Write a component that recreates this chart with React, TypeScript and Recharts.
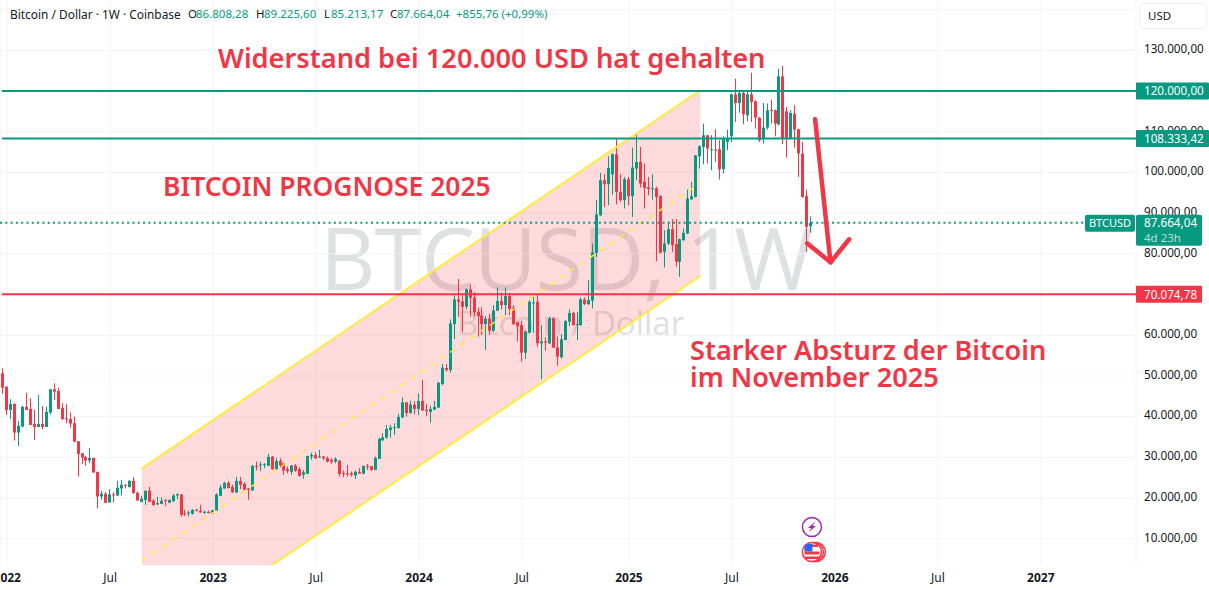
import React from "react";
import {
  ComposedChart,
  Bar,
  Line,
  Area,
  XAxis,
  YAxis,
  CartesianGrid,
  ReferenceLine,
  ReferenceDot,
} from "recharts";

const UP = "#089981";
const DOWN = "#f23645";
const YELLOW = "#ffeb3b";
const TEXT = "#131722";
const FONT = "'Noto Sans', sans-serif";

// weekly candles, first one is the week of 27 Dec 2021
const opens = [
  50660, 47390, 41660, 43130, 36100, 37570, 42400, 41910, 38230, 37490, 38230, 37490, 41010, 46730, 46330, 42150, 39620, 39450, 38390, 33970,
  31030, 30050, 29230, 29880, 26370, 20400, 21050, 18920, 20890, 20640, 22360, 23260, 22680, 24240, 21290, 19080, 19580, 21790, 19410, 18430,
  18590, 19500, 18840, 19250, 20640, 20890, 16220, 16300, 16140, 17120, 16880, 16470, 16630, 16220, 16880, 20560, 22360, 23750, 22770, 21380,
  24240, 23500, 22360, 21870, 27920, 28080, 28160, 27920, 30210, 27100, 29150, 28490, 27100, 26450, 28000, 27100, 25710, 25960, 30210, 30620,
  29960, 30210, 29800, 29390, 28980, 29230, 26120, 26040, 26120, 25550, 26450, 25960, 27840, 27840, 26940, 29640, 34220, 34870, 36750, 37240,
  37240, 39860, 43540, 40920, 42970, 41910, 43870, 41660, 41170, 41740, 42230, 48040, 51970, 51480, 62770, 68820, 68330, 67020, 71270, 69310,
  65790, 64890, 62770, 64070, 61130, 66040, 68410, 67430, 69640, 66770, 63170, 62520, 55730, 60640, 67840, 68250, 58020, 58510, 58020, 64160,
  57040, 54590, 58840, 63340, 65470, 62600, 62520, 68820, 67670, 68490, 80270, 89510, 98100, 97120, 99580, 104480, 95240, 93200, 98350, 94180,
  100970, 102600, 97700, 96390, 95980, 96140, 94180, 80520, 82560, 86080, 82400, 78060, 83380, 85020, 93440, 94010, 103990, 106280, 109150, 105470,
  105630, 105710, 100800, 107510, 108900, 119210, 117080, 119540, 114050, 119210, 117490, 113480, 108160, 111030, 115360, 115280, 111850, 123620, 115040, 108330,
  114460, 110620, 104650, 94180, 86808.28,
];
const closes = [
  47140, 41660, 43130, 36100, 37740, 42400, 41660, 37980, 37490, 38230, 37490, 41170, 46730, 46160, 41910, 39450, 39450, 38310, 33890, 30860,
  29960, 29230, 29880, 26280, 20400, 21050, 18840, 20890, 20640, 22520, 23260, 23010, 24240, 21290, 19410, 19820, 21790, 19080, 18270, 18760,
  19330, 19250, 19580, 20640, 20970, 15900, 15980, 16470, 17120, 16880, 16470, 16630, 16300, 17040, 20890, 22600, 23750, 22520, 21460, 24240,
  23260, 22030, 22030, 27920, 27760, 28250, 28330, 30130, 27100, 29150, 28080, 26780, 26610, 28000, 26690, 25470, 26360, 30370, 30620, 29800,
  30210, 29800, 28980, 28980, 29640, 25960, 25870, 25790, 25790, 26450, 26040, 27920, 27590, 26940, 29880, 34540, 34950, 37000, 37330, 37410,
  39940, 43540, 40920, 42970, 41910, 43870, 41500, 41420, 41910, 42400, 48370, 52050, 51480, 62930, 68820, 68250, 67020, 71270, 69230, 65630,
  64730, 62770, 64070, 61130, 66120, 68410, 67430, 69640, 66450, 62770, 62270, 55730, 60880, 68250, 68080, 58020, 58510, 58190, 64160, 56960,
  54750, 59000, 63500, 65470, 62520, 62770, 68820, 67670, 68660, 80350, 89680, 98100, 97120, 101130, 104480, 95240, 93200, 98350, 94180, 101210,
  102600, 97290, 96220, 95980, 96140, 94010, 80270, 82560, 86080, 82150, 78060, 83630, 85180, 93600, 94180, 104240, 106450, 109150, 105870, 105710,
  105470, 100800, 108330, 108330, 119210, 117080, 119540, 114300, 119210, 117330, 113480, 107920, 111030, 115280, 115120, 112010, 123620, 108330, 108330, 114630,
  110540, 104650, 94010, 86650, 87664.04,
];
const highs = [
  51890, 47390, 44280, 43300, 38960, 42640, 45920, 44530, 41660, 45340, 42640, 42480, 46820, 48210, 47140, 43300, 43050, 41010, 40030, 33970,
  31030, 30370, 32260, 29880, 26530, 21790, 21460, 22190, 21460, 24240, 24480, 23420, 24480, 25140, 21620, 20560, 21870, 22770, 19660, 20310,
  20150, 19740, 19580, 20970, 21210, 20970, 17120, 16880, 17290, 17370, 18350, 16960, 16960, 17120, 21210, 23260, 23990, 24160, 23340, 25220,
  25220, 23990, 22520, 28160, 28980, 28980, 28570, 30860, 30370, 29800, 29800, 28570, 27760, 28160, 28410, 27590, 26940, 30370, 31190, 31190,
  31850, 30370, 30210, 29800, 30050, 29390, 26770, 28160, 26530, 26770, 27350, 27920, 28410, 27920, 30210, 34870, 35940, 37980, 37980, 38390,
  40680, 44770, 43540, 43950, 43870, 45750, 49020, 43130, 42640, 43870, 48450, 52950, 52950, 63910, 69880, 73810, 69880, 71520, 72500, 70540,
  66770, 66860, 64730, 65220, 67430, 71760, 70540, 71760, 70290, 67430, 63340, 63580, 61290, 68660, 69470, 70050, 62520, 59490, 64570, 64400,
  59660, 60310, 63750, 66360, 65790, 65790, 69310, 69310, 73560, 82560, 93200, 99900, 99580, 103990, 104650, 108330, 99580, 98920, 98920, 106120,
  109390, 106280, 102190, 98920, 99580, 96470, 94420, 85830, 87630, 88530, 88530, 83790, 86250, 95810, 97690, 104240, 106690, 112010, 109150, 109150,
  110620, 107920, 108900, 110540, 119370, 123050, 120350, 119780, 119780, 124520, 117740, 113650, 117080, 116920, 117900, 115450, 125510, 126160, 116100, 115280,
  116510, 110780, 107510, 95810, 89225.6,
];
const lows = [
  45590, 40440, 39450, 34140, 32830, 37410, 41660, 37980, 34300, 37490, 36920, 37490, 40600, 44120, 41910, 39210, 38390, 37330, 33650, 25300,
  28410, 27920, 28570, 26280, 17450, 19580, 18760, 18840, 18920, 20560, 20640, 22360, 22680, 21050, 19410, 19080, 18350, 19080, 18100, 18350,
  18510, 18100, 18760, 19080, 19740, 15400, 15650, 15490, 15980, 16710, 16470, 16140, 16300, 16220, 16880, 20560, 22360, 22360, 21290, 21290,
  22190, 21870, 19580, 21870, 26780, 26610, 27350, 27920, 26940, 26940, 27590, 25710, 26120, 25710, 26450, 25300, 24730, 25960, 29390, 29640,
  29960, 29390, 28740, 28410, 28570, 25300, 25140, 25300, 25300, 24730, 26040, 25960, 26940, 26690, 26940, 29640, 34050, 34540, 34870, 35530,
  37080, 39620, 40030, 40760, 40600, 40430, 41500, 40190, 38550, 41660, 42230, 47710, 51070, 50820, 59080, 64570, 60880, 66360, 64570, 64570,
  59660, 60070, 56390, 60070, 60880, 66040, 66360, 64970, 64970, 62520, 58430, 53520, 54180, 60480, 60640, 57200, 49190, 56220, 57860, 56960,
  52540, 54340, 58840, 62270, 62360, 58840, 62360, 67430, 67430, 66610, 79290, 89270, 91560, 91970, 94590, 92210, 92790, 91150, 91970, 89110,
  98100, 96300, 91150, 94420, 93360, 78230, 80110, 76670, 82150, 80520, 76830, 74380, 83210, 84850, 93190, 93850, 100970, 102030, 102190, 100560,
  102600, 98270, 99740, 105470, 107510, 112420, 114710, 111850, 112580, 112420, 110780, 107510, 107100, 110540, 112010, 108900, 111600, 106940, 103670, 108160,
  106120, 98920, 93850, 80520, 85213.17,
];

// 120.000 and 70.000 are hidden behind the price tags in the original
const priceTicks = [130000, 110000, 100000, 90000, 80000, 60000, 50000, 40000, 30000, 20000, 10000];
const gridPrices = [140000, 130000, 120000, 110000, 100000, 90000, 80000, 70000, 60000, 50000, 40000, 30000, 20000, 10000];
const timeTicks = [1, 27, 53, 79, 105, 131, 158, 184, 210, 236, 262];
const timeLabels = ["2022", "Jul", "2023", "Jul", "2024", "Jul", "2025", "Jul", "2026", "Jul", "2027"];

const RESISTANCE = 120000;
const SUPPORT_UP = 108333.42;
const SUPPORT_DOWN = 70074.78;
const LAST_PRICE = 87664.04;
const tagPrices = [RESISTANCE, SUPPORT_UP, LAST_PRICE, SUPPORT_DOWN];

const channelWeeks = [35, 176];
const channelTop = [27320, 120200];
const channelMid = [4620, 97420];
const channelBottom = [-18060, 74570];

const shaftWeeks = [205, 208.9];
const shaftPrices = [113070, 77930];
const headWeeks = [203, 208.9, 213.6];
const headPrices = [82600, 77930, 83590];

const rows = opens.map((open, week) => ({
  week,
  open,
  close: closes[week],
  range: [lows[week], highs[week]],
}));
const channelRows = channelWeeks.map((week, i) => ({
  week,
  band: [channelBottom[i], channelTop[i]],
  top: channelTop[i],
  mid: channelMid[i],
  bottom: channelBottom[i],
}));
const shaftRows = shaftWeeks.map((week, i) => ({ week, price: shaftPrices[i] }));
const headRows = headWeeks.map((week, i) => ({ week, price: headPrices[i] }));

const PLOT_W = 1136;
const Y_DOMAIN: [number, number] = [3563, 142383];

const fmt = (v: number) =>
  v.toLocaleString("de-DE", { minimumFractionDigits: 2, maximumFractionDigits: 2 });

function Candle(props: any) {
  const { x, y, width, height, payload } = props;
  const [low, high] = payload.range;
  const perUnit = height / (high - low);
  const color = payload.close >= payload.open ? UP : DOWN;
  const top = y + (high - Math.max(payload.open, payload.close)) * perUnit;
  const bodyH = Math.max(Math.abs(payload.close - payload.open) * perUnit, 1);
  const cx = Math.round(x + width / 2 - 0.5) + 0.5;
  return (
    <g>
      <rect x={cx - 0.5} y={y} width={1} height={height} fill={color} />
      <rect x={cx - 1.5} y={top} width={3} height={bodyH} fill={color} />
    </g>
  );
}

function PriceTick({ y, payload }: any) {
  return (
    <text x={PLOT_W + 8} y={y - 1.5} dy="0.36em" fontSize={11.7} fontFamily={FONT} fill={TEXT}>
      {fmt(payload.value)}
    </text>
  );
}

function TimeTick({ x, y, index }: any) {
  const label = timeLabels[index];
  return (
    <text
      x={x}
      y={y + 5}
      dy="0.36em"
      textAnchor="middle"
      fontSize={12}
      fontWeight={label === "Jul" ? 400 : 700}
      fontFamily={FONT}
      fill={TEXT}
    >
      {label}
    </text>
  );
}

// second axis on top of the first one, so the tags cover the tick labels
function TagTick({ y, payload }: any) {
  const v = payload.value;
  if (v === LAST_PRICE) {
    return (
      <g>
        <rect x={1085} y={y - 8} width={50} height={17} rx={2} fill={UP} />
        <text x={1110} y={y + 0.5} dy="0.36em" textAnchor="middle" fontSize={11} fontFamily={FONT} fill="#fff">
          BTCUSD
        </text>
        <rect x={PLOT_W} y={y - 8} width={66} height={31} rx={2} fill={UP} />
        <text x={PLOT_W + 8} y={y} dy="0.36em" fontSize={11.7} fontFamily={FONT} fill="#fff">
          {fmt(v)}
        </text>
        <text x={PLOT_W + 8} y={y + 15} dy="0.36em" fontSize={11.5} fontFamily={FONT} fill="#b5e0d7">
          4d 23h
        </text>
      </g>
    );
  }
  const color = v === SUPPORT_DOWN ? DOWN : UP;
  return (
    <g>
      <rect x={PLOT_W} y={y - 8.5} width={v === SUPPORT_DOWN ? 66 : 73} height={17} rx={1} fill={color} />
      <text x={PLOT_W + 8} y={y} dy="0.36em" fontSize={11.7} fontFamily={FONT} fill="#fff">
        {fmt(v)}
      </text>
    </g>
  );
}

function FlashIcon({ cx, cy }: any) {
  return (
    <g>
      <circle cx={cx} cy={cy} r={9.5} fill="#fff" stroke="#9c27b0" strokeWidth={1.5} />
      <path
        d={`M${cx + 3.5} ${cy - 5.5}L${cx - 4} ${cy + 1}H${cx - 0.5}L${cx - 3.5} ${cy + 5.5}L${cx + 4} ${cy - 1}H${cx + 0.5}Z`}
        fill="#9c27b0"
      />
    </g>
  );
}

function FlagIcon({ cx, cy }: any) {
  return (
    <g>
      <circle cx={cx + 4} cy={cy} r={9.5} fill="#fff" stroke={DOWN} strokeWidth={1.5} />
      <circle cx={cx + 2} cy={cy} r={9.5} fill="#fff" stroke={DOWN} strokeWidth={1.5} />
      <circle cx={cx} cy={cy} r={9.5} fill="#fff" stroke={DOWN} strokeWidth={1.5} />
      <path d={`M${cx - 7.5} ${cy - 0.5}h15v3h-15z`} fill={DOWN} />
      <path d={`M${cx - 7} ${cy + 4.5}h14v2.5h-14z`} fill={DOWN} />
      <path d={`M${cx - 4} ${cy - 7.5}h10v2.5h-10z`} fill={DOWN} />
      <path d={`M${cx - 7.5} ${cy - 6.5}l3.5 -1.5h4.5v7.5h-8z`} fill="#2962ff" />
    </g>
  );
}

const labelStyle: React.CSSProperties = {
  position: "absolute",
  whiteSpace: "nowrap",
  fontFamily: FONT,
  color: DOWN,
  fontWeight: 600,
};
const legend = (x: number, text: string, color: string, size = 11.5) => (
  <span style={{ position: "absolute", left: x, top: 6, fontSize: size, lineHeight: "16px", color, whiteSpace: "nowrap" }}>
    {text}
  </span>
);

export default function App() {
  return (
    <div style={{ position: "absolute", left: 0, top: 0, width: 1209, height: 590, overflow: "hidden", background: "#fff" }}>
      {/* watermark sits behind the chart */}
      <div style={{ position: "absolute", left: 320, top: 214, fontFamily: "'Open Sans', sans-serif", fontSize: 86, letterSpacing: -1, lineHeight: "86px", color: "#dfe0e2", whiteSpace: "nowrap" }}>
        BTCUSD, 1W
      </div>
      <div style={{ position: "absolute", left: 457, top: 300, fontFamily: "'Open Sans', sans-serif", fontSize: 33, lineHeight: "46px", color: "#dfe0e2", whiteSpace: "nowrap" }}>
        Bitcoin / Dollar
      </div>

      <div style={{ position: "absolute", left: 0, top: 0 }}>
        <ComposedChart width={1209} height={590} data={rows} margin={{ top: 0, right: 0, bottom: 0, left: 0 }}>
          <CartesianGrid stroke="#f2f3f4" horizontalValues={gridPrices} />
          <XAxis
            dataKey="week"
            type="number"
            domain={[-0.833, 286.04]}
            ticks={timeTicks}
            allowDataOverflow
            interval={0}
            height={25}
            axisLine={false}
            tickLine={false}
            tick={<TimeTick />}
          />
          <YAxis
            orientation="right"
            type="number"
            domain={Y_DOMAIN}
            ticks={priceTicks}
            allowDataOverflow
            interval={0}
            width={73}
            axisLine={false}
            tickLine={false}
            tick={<PriceTick />}
          />
          <YAxis
            yAxisId="tags"
            orientation="right"
            mirror
            type="number"
            domain={Y_DOMAIN}
            ticks={tagPrices}
            allowDataOverflow
            interval={0}
            width={73}
            axisLine={false}
            tickLine={false}
            tick={<TagTick />}
          />
          <Area
            data={channelRows}
            dataKey="band"
            stroke="none"
            fill={DOWN}
            fillOpacity={0.18}
            dot={false}
            activeDot={false}
            isAnimationActive={false}
          />
          <Line data={channelRows} dataKey="mid" stroke={YELLOW} strokeWidth={1.5} strokeDasharray="6 6" dot={false} activeDot={false} isAnimationActive={false} />
          <Line data={channelRows} dataKey="top" stroke={YELLOW} strokeWidth={2} dot={false} activeDot={false} isAnimationActive={false} />
          <Line data={channelRows} dataKey="bottom" stroke={YELLOW} strokeWidth={2} dot={false} activeDot={false} isAnimationActive={false} />
          <Bar dataKey="range" barSize={3} shape={<Candle />} isAnimationActive={false} />
          <ReferenceLine segment={[{ x: -0.33, y: RESISTANCE }, { x: 286.04, y: RESISTANCE }]} stroke={UP} strokeWidth={2} />
          <ReferenceLine segment={[{ x: -0.33, y: SUPPORT_UP }, { x: 286.04, y: SUPPORT_UP }]} stroke={UP} strokeWidth={2} />
          <ReferenceLine segment={[{ x: -0.33, y: SUPPORT_DOWN }, { x: 286.04, y: SUPPORT_DOWN }]} stroke={DOWN} strokeWidth={2} />
          <ReferenceLine
            segment={[{ x: -0.833, y: LAST_PRICE }, { x: 273, y: LAST_PRICE }]}
            stroke={UP}
            strokeWidth={2}
            strokeDasharray="2 3.3"
          />
          <Line data={shaftRows} dataKey="price" stroke={DOWN} strokeWidth={4.5} strokeLinecap="round" dot={false} activeDot={false} isAnimationActive={false} />
          <Line data={headRows} dataKey="price" stroke={DOWN} strokeWidth={4.5} strokeLinecap="round" strokeLinejoin="round" dot={false} activeDot={false} isAnimationActive={false} />
          <ReferenceDot x={204.2} y={12900} shape={<FlashIcon />} />
          <ReferenceDot x={204.2} y={6760} shape={<FlagIcon />} />
        </ComposedChart>
      </div>

      {/* header line */}
      <div style={{ fontFamily: FONT }}>
        {legend(10, "Bitcoin / Dollar · 1W · Coinbase", TEXT, 11.9)}
        {legend(188, "O", TEXT)}
        {legend(196, "86.808,28", UP)}
        {legend(256, "H", TEXT)}
        {legend(264, "89.225,60", UP)}
        {legend(324, "L", TEXT)}
        {legend(331, "85.213,17", UP)}
        {legend(390, "C", TEXT)}
        {legend(397, "87.664,04", UP)}
        {legend(456, "+855,76 (+0,99%)", UP)}
      </div>

      {/* currency button */}
      <div style={{ position: "absolute", left: 1139, top: 3, width: 68, height: 26, boxSizing: "border-box", border: "1px solid #eeeff1", borderRadius: 5, background: "#fff", fontFamily: FONT, fontSize: 11.5, lineHeight: "24px", paddingLeft: 8, color: TEXT }}>
        USD
      </div>

      {/* annotations */}
      <div style={{ ...labelStyle, left: 218, top: 39, fontSize: 27.2, lineHeight: "38px" }}>Widerstand bei 120.000 USD hat gehalten</div>
      <div style={{ ...labelStyle, left: 163, top: 169, fontSize: 26.4, lineHeight: "34px" }}>BITCOIN PROGNOSE 2025</div>
      <div style={{ ...labelStyle, left: 690, top: 335.5, fontSize: 27.1, lineHeight: "27px" }}>Starker Absturz der Bitcoin</div>
      <div style={{ ...labelStyle, left: 690, top: 362.5, fontSize: 27.1, lineHeight: "27px" }}>im November 2025</div>
    </div>
  );
}
